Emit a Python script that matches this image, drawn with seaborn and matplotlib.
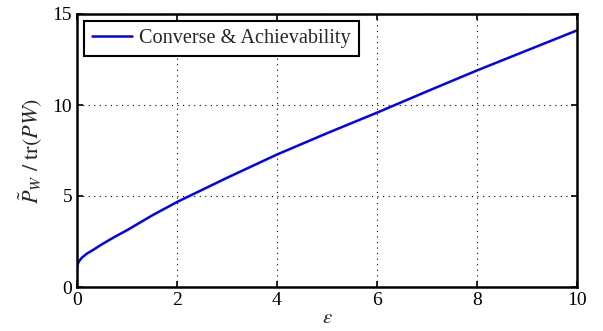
import numpy as np
import pandas as pd
import seaborn as sns
import matplotlib
matplotlib.use('Agg')
import matplotlib.pyplot as plt

# Values
epsilon = [0, 0.02, 0.05, 0.1, 0.2, 0.3, 0.5, 0.75, 1, 1.5, 2, 3, 4, 5, 6, 7, 8, 9, 10]
ratio = [1.1, 1.3, 1.45, 1.62, 1.84, 2.0, 2.35, 2.75, 3.12, 3.93, 4.67, 6.0, 7.28, 8.45, 9.58, 10.75, 11.9, 13.0, 14.1]
series_label = 'Converse & Achievability'
x_ticks = [0, 2, 4, 6, 8, 10]
y_ticks = [0, 5, 10, 15]

sns.set_style('ticks')
plt.rcParams['font.family'] = ['Liberation Serif', 'DejaVu Serif']
plt.rcParams['mathtext.fontset'] = 'stix'

df = pd.DataFrame({'eps': epsilon, 'val': ratio, 'name': series_label})

fig = plt.figure(figsize=(6.03, 3.31), dpi=100)
ax = fig.add_axes([77 / 603, 44 / 331, 500 / 603, 273 / 331])

sns.lineplot(data=df, x='eps', y='val', hue='name', palette=['#0000ff'],
             linewidth=1.8, ax=ax)

ax.set_xlim(0, 10)
ax.set_ylim(0, 15)
ax.set_xticks(x_ticks)
ax.set_yticks(y_ticks)
ax.tick_params(direction='in', top=True, right=True, labelsize=14, length=4,
               width=1.2, color='black', labelcolor='black')
for s in ax.spines.values():
    s.set_linewidth(1.8)
    s.set_color('black')
ax.grid(True, linestyle=(0, (1, 4)), color='black', linewidth=0.8)

ax.set_xlabel(r'$\epsilon$', fontsize=15, labelpad=0)
ax.set_ylabel(r'$\tilde{P}_W\ /\ \mathrm{tr}(PW)$', fontsize=16, labelpad=6)

leg = ax.legend(loc='upper left', fontsize=14.6, frameon=True, fancybox=False,
                edgecolor='black', framealpha=1, borderpad=0.38,
                handlelength=2.0, handletextpad=0.35, borderaxespad=0.35)
leg.get_frame().set_linewidth(1.5)

fig.savefig('out.png', dpi=100)
